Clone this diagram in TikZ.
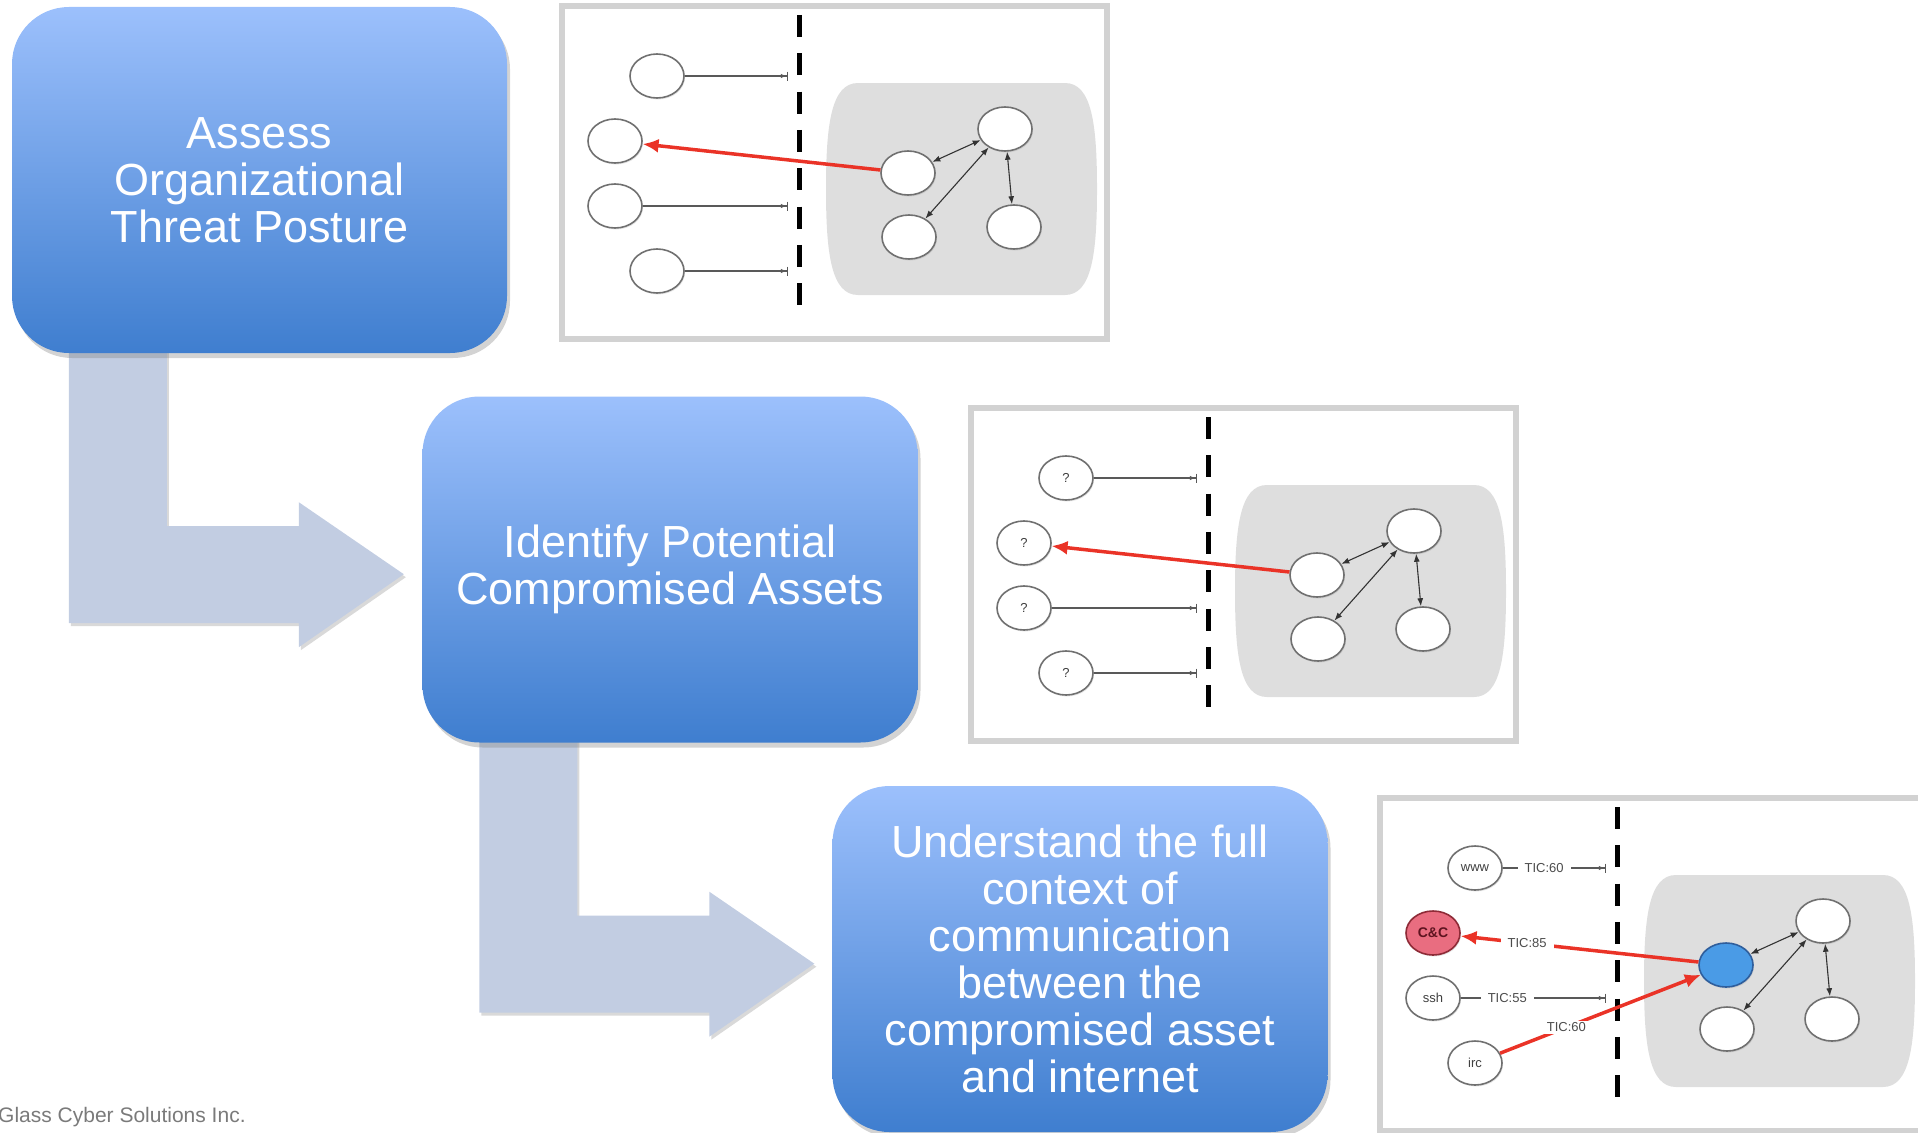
\documentclass[tikz,border=0pt]{standalone}
\usepackage{fontspec}
\setmainfont{Liberation Sans}
\usetikzlibrary{positioning,arrows.meta,calc,shapes.geometric,shadows,backgrounds}
\definecolor{stepTop}{HTML}{9CC0FC}
\definecolor{stepBot}{HTML}{3F7ECF}
\definecolor{bendc}{HTML}{C2CDE2}
\definecolor{framec}{HTML}{D2D2D2}
\definecolor{zonec}{HTML}{DEDEDE}
\definecolor{hostline}{HTML}{707070}
\definecolor{hitred}{HTML}{EA3327}
\definecolor{ccfill}{HTML}{E96D80}
\definecolor{ccline}{HTML}{8E2B37}
\definecolor{cctext}{HTML}{5E1420}
\definecolor{pcfill}{HTML}{4A9BE6}
\definecolor{pcline}{HTML}{2F5E9C}
\definecolor{footc}{HTML}{7A7A7A}

\begin{document}
\begin{tikzpicture}[x=1pt,y=-1pt,
  stepbox/.style={rounded corners=57pt,minimum width=495pt,minimum height=346pt,inner sep=0pt,
    top color=stepTop,bottom color=stepBot,text=white,align=center,font=\fontsize{45}{47}\selectfont,
    drop shadow={opacity=0.35,shadow xshift=3pt,shadow yshift=-5pt}},
  bentarrow/.style={fill=bendc,drop shadow={opacity=0.3,shadow xshift=2pt,shadow yshift=-3pt}},
  panelframe/.style={draw=framec,line width=6pt},
  netzone/.style={fill=zonec},
  fence/.style={draw=black,line width=5pt,dash pattern=on 22pt off 16.3pt},
  host/.style={ellipse,draw=hostline,line width=1.6pt,fill=white,minimum width=54pt,minimum height=44pt,
    inner sep=0pt,text=black!75,font=\fontsize{13}{13}\selectfont,
    drop shadow={opacity=0.2,shadow xshift=1pt,shadow yshift=-1.5pt}},
  blocked/.style={draw=black!65,line width=1.2pt,-{Latex[length=6pt,width=4.5pt]Bar[width=9pt]}},
  hitline/.style={draw=hitred,line width=3.5pt,-{Latex[length=16pt,width=14pt]}},
  peerlink/.style={draw=black!80,line width=1.1pt,<->,>={Latex[length=8pt,width=6pt]}},
  tic/.style={fill=white,inner xsep=7pt,inner ysep=2pt,text=black!70,font=\fontsize{13}{13}\selectfont}]

\useasboundingbox (0,0) rectangle (1918,1132);

\node[stepbox] (s1) at (259.5,180) {Assess\\Organizational\\Threat Posture};
\node[stepbox] (s2) at ($(s1)+(410.5,389.5)$) {Identify Potential\\Compromised Assets};
\node[stepbox] (s3) at ($(s2)+(410,389.5)$) {Understand the full\\context of\\communication\\between the\\compromised asset\\and internet};

\begin{scope}[on background layer]
  \foreach \s in {s1,s2}
    \fill[bentarrow,shift={(\s.south west)}] (57,-20) -- (155,-20) -- (155,173) -- (287,173) -- (287,149)
      -- (392,221) -- (287,294) -- (287,270) -- (57,270) -- cycle;
\end{scope}

% network sketches: frame, inside zone, fence and the inner hosts
\foreach \p/\dx/\dy in {1/0/0,2/409/402,3/818/792}{
  \begin{scope}[shift={(\dx,\dy)}]
    \draw[panelframe] (562,6) rectangle (1107,339);
    \fill[netzone] (858,83) -- (1065,83) .. controls (1092,83) and (1097,125) .. (1097,189)
      .. controls (1097,253) and (1092,295) .. (1065,295) -- (858,295)
      .. controls (831,295) and (826,253) .. (826,189) .. controls (826,125) and (831,83) .. (858,83) -- cycle;
    \draw[fence] (799,15) -- (799,305);
    \node[host] (hub\p) at (1005,129) {};
    \node[host] (lft\p) at (909,237) {};
    \node[host] (rgt\p) at (1014,227) {};
  \end{scope}
  \draw[peerlink] (hub\p) -- (lft\p);
  \draw[peerlink] (hub\p) -- (rgt\p);
}

\foreach \p/\dx/\dy/\q in {1/0/0/{},2/409/402/?}{
  \begin{scope}[shift={(\dx,\dy)},every node/.append style={font=\fontsize{10}{10}\selectfont}]
    \node[host] (top\p) at (657,76) {\q};
    \node[host] (up\p) at (615,141) {\q};
    \node[host] (dn\p) at (615,206) {\q};
    \node[host] (btm\p) at (657,271) {\q};
    \node[host] (vic\p) at (908,173) {};
    \coordinate (ga\p) at (788,76);
    \coordinate (gc\p) at (788,206);
    \coordinate (gd\p) at (788,271);
  \end{scope}
  \draw[blocked] (top\p) -- (ga\p);
  \draw[blocked] (dn\p) -- (gc\p);
  \draw[blocked] (btm\p) -- (gd\p);
  \draw[hitline] (vic\p) -- (up\p);
  \draw[peerlink] (vic\p) -- (hub\p);
}

\begin{scope}[shift={(818,792)}]
  \node[host] (www) at (657,76) {www};
  \node[host,fill=ccfill,draw=ccline,text=cctext,font=\bfseries\fontsize{14}{14}\selectfont] (cc) at (615,141) {C\&C};
  \node[host] (ssh) at (615,206) {ssh};
  \node[host] (irc) at (657,271) {irc};
  \node[host,fill=pcfill,draw=pcline] (vic3) at (908,173) {};
  \coordinate (ga3) at (788,76);
  \coordinate (gc3) at (788,206);
\end{scope}
\draw[blocked] (www) -- node[tic,pos=0.4] {TIC:60} (ga3);
\draw[blocked] (ssh) -- node[tic,pos=0.32] {TIC:55} (gc3);
\draw[hitline] (vic3) -- node[tic,pos=0.72] {TIC:85} (cc);
\draw[hitline] (irc) -- node[tic,pos=0.33] {TIC:60} (vic3);
\draw[peerlink] (vic3) -- (hub3);

\node[anchor=base west,inner sep=0pt,text=footc,font=\fontsize{21}{21}\selectfont] (foot) at (-2,1122) {Glass Cyber Solutions Inc.};
\end{tikzpicture}
\end{document}
